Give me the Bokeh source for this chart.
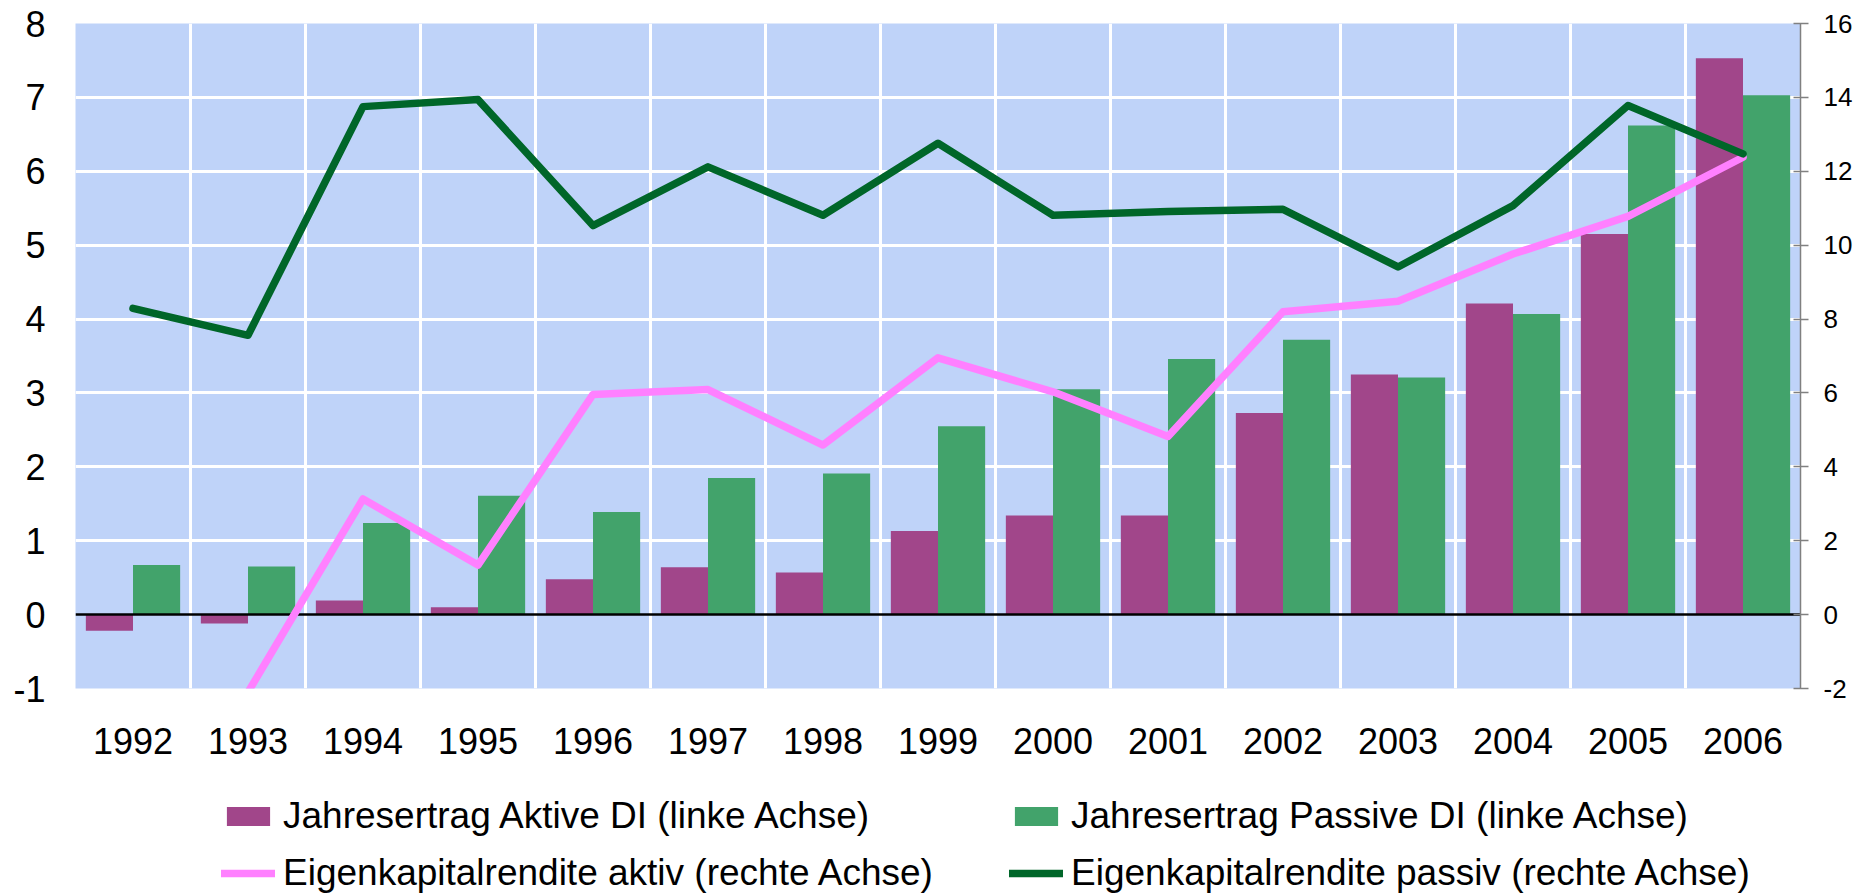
from bokeh.plotting import figure
from bokeh.layouts import column
from bokeh.models import (ColumnDataSource, Range1d, LinearAxis, FixedTicker, Grid,
                          Legend, LegendItem)
from bokeh.transform import dodge
from bokeh.embed import file_html
from bokeh.resources import INLINE

# ---------------- data ----------------
years = ["1992", "1993", "1994", "1995", "1996", "1997", "1998", "1999",
         "2000", "2001", "2002", "2003", "2004", "2005", "2006"]
ertrag_aktiv = [-0.22, -0.12, 0.19, 0.10, 0.48, 0.64, 0.57, 1.13,
                1.34, 1.34, 2.73, 3.25, 4.21, 5.15, 7.53]
ertrag_passiv = [0.67, 0.65, 1.24, 1.61, 1.39, 1.85, 1.91, 2.55,
                 3.05, 3.46, 3.72, 3.21, 4.07, 6.62, 7.03]
roe_aktiv = [-3.0, -2.1, 3.13, 1.34, 5.96, 6.09, 4.59, 6.95,
             6.03, 4.82, 8.20, 8.48, 9.76, 10.78, 12.38]
roe_passiv = [8.29, 7.56, 13.75, 13.94, 10.53, 12.12, 10.81, 12.76,
              10.81, 10.91, 10.97, 9.41, 11.07, 13.78, 12.47]
left_ticks = [-1, 0, 1, 2, 3, 4, 5, 6, 7, 8]
right_ticks = [-2, 0, 2, 4, 6, 8, 10, 12, 14, 16]

labels = {
    "aktiv": "Jahresertrag Aktive DI (linke Achse)",
    "passiv": "Jahresertrag Passive DI (linke Achse)",
    "roe_aktiv": "Eigenkapitalrendite aktiv (rechte Achse)",
    "roe_passiv": "Eigenkapitalrendite passiv (rechte Achse)",
}

# ---------------- colours / fonts ----------------
BG = "#BFD3F9"
PURPLE = "#A1468A"
GREEN = "#42A36B"
PINK = "#FF80FF"
DKGREEN = "#006629"
FONT = "Liberation Sans"
LW = 7.5

xs = list(range(len(years)))
src = ColumnDataSource(dict(x=xs, aktiv=ertrag_aktiv, passiv=ertrag_passiv,
                            roe_a=roe_aktiv, roe_p=roe_passiv))

MAIN_H = 770
p = figure(width=1860, height=MAIN_H, output_backend="svg", toolbar_location=None,
           x_range=Range1d(-0.5, len(years) - 0.5),
           y_range=Range1d(left_ticks[0], left_ticks[-1]),
           min_border_left=75, min_border_right=60, min_border_top=23,
           min_border_bottom=MAIN_H - 688)
p.extra_y_ranges = {"right": Range1d(right_ticks[0], right_ticks[-1])}

p.background_fill_color = BG
p.border_fill_color = "white"
p.outline_line_color = None

# grids (white lines between categories and at integer values)
p.xgrid.visible = False
p.ygrid.visible = False
p.add_layout(Grid(dimension=0, ticker=FixedTicker(ticks=[i + 0.5 for i in xs[:-1]]),
                  grid_line_color="white", grid_line_width=3))
p.add_layout(Grid(dimension=1, ticker=FixedTicker(ticks=[t for t in left_ticks if 0 < t < left_ticks[-1]]),
                  grid_line_color="white", grid_line_width=3))

# x axis
xa = p.xaxis[0]
xa.ticker = FixedTicker(ticks=xs)
xa.major_label_overrides = {i: y for i, y in zip(xs, years)}
xa.axis_line_color = None
xa.major_tick_line_color = None
xa.major_tick_in = 0
xa.major_tick_out = 0
xa.minor_tick_line_color = None
xa.major_label_text_font = FONT
xa.major_label_text_font_size = "36px"
xa.major_label_text_color = "black"
xa.major_label_standoff = 39

# left axis
ya = p.yaxis[0]
ya.ticker = FixedTicker(ticks=left_ticks)
ya.major_label_overrides = {t: str(t) for t in left_ticks}
ya.axis_line_color = None
ya.major_tick_line_color = None
ya.major_tick_in = 0
ya.major_tick_out = 0
ya.minor_tick_line_color = None
ya.major_label_text_font = FONT
ya.major_label_text_font_size = "36px"
ya.major_label_text_color = "black"
ya.major_label_standoff = 30

# right axis
ra = LinearAxis(y_range_name="right", ticker=FixedTicker(ticks=right_ticks))
ra.major_label_overrides = {t: str(t) for t in right_ticks}
ra.axis_line_color = "#808080"
ra.axis_line_width = 1.5
ra.major_tick_line_color = "#808080"
ra.major_tick_line_width = 1.5
ra.major_tick_in = 7
ra.major_tick_out = 8
ra.minor_tick_line_color = None
ra.major_label_text_font = FONT
ra.major_label_text_font_size = "26px"
ra.major_label_text_color = "black"
ra.major_label_standoff = 15
p.add_layout(ra, "right")

# bars
p.vbar(x=dodge("x", -0.205, range=p.x_range), top="aktiv", width=0.41,
       source=src, fill_color=PURPLE, line_color=None)
p.vbar(x=dodge("x", 0.205, range=p.x_range), top="passiv", width=0.41,
       source=src, fill_color=GREEN, line_color=None)

# zero line
p.hspan(y=[0], line_color="black", line_width=2.5)

# lines (right axis)
p.line("x", "roe_a", source=src, y_range_name="right", line_color=PINK,
       line_width=LW, line_join="round", line_cap="round")
p.line("x", "roe_p", source=src, y_range_name="right", line_color=DKGREEN,
       line_width=LW, line_join="round", line_cap="round")

# ---------------- legend strip ----------------
LEG_H = 894 - MAIN_H
leg = figure(width=1860, height=LEG_H, output_backend="svg", toolbar_location=None,
             x_axis_type=None, y_axis_type=None,
             x_range=Range1d(0, 1), y_range=Range1d(0, 1), min_border=0)
leg.outline_line_color = None
leg.background_fill_color = "white"
leg.grid.visible = False

# legend proxies: one non-finite point each, so nothing is drawn in the strip
nan = float("nan")
k_a = leg.vbar(x=[nan], top=[nan], width=0.1, fill_color=PURPLE, line_color=None)
k_p = leg.vbar(x=[nan], top=[nan], width=0.1, fill_color=GREEN, line_color=None)
k_ra = leg.line(x=[nan], y=[nan], line_color=PINK, line_width=LW, line_cap="round")
k_rp = leg.line(x=[nan], y=[nan], line_color=DKGREEN, line_width=LW, line_cap="round")

common = dict(orientation="vertical",
              label_text_font=FONT, label_text_font_size="37px",
              label_text_color="black",
              glyph_width=54, glyph_height=24, label_standoff=8,
              spacing=15, padding=0, margin=0,
              border_line_color=None, background_fill_alpha=0)
# the strip's frame is aligned with the chart's frame (starts 75px in)
leg1 = Legend(items=[LegendItem(label=labels["aktiv"], renderers=[k_a]),
                     LegendItem(label=labels["roe_aktiv"], renderers=[k_ra])],
              location=(146, 0), **common)
leg2 = Legend(items=[LegendItem(label=labels["passiv"], renderers=[k_p]),
                     LegendItem(label=labels["roe_passiv"], renderers=[k_rp])],
              location=(934, 0), **common)
leg.add_layout(leg1, "center")
leg.add_layout(leg2, "center")

layout = column(p, leg, spacing=0)
open("out.html", "w").write(file_html(layout, INLINE))
